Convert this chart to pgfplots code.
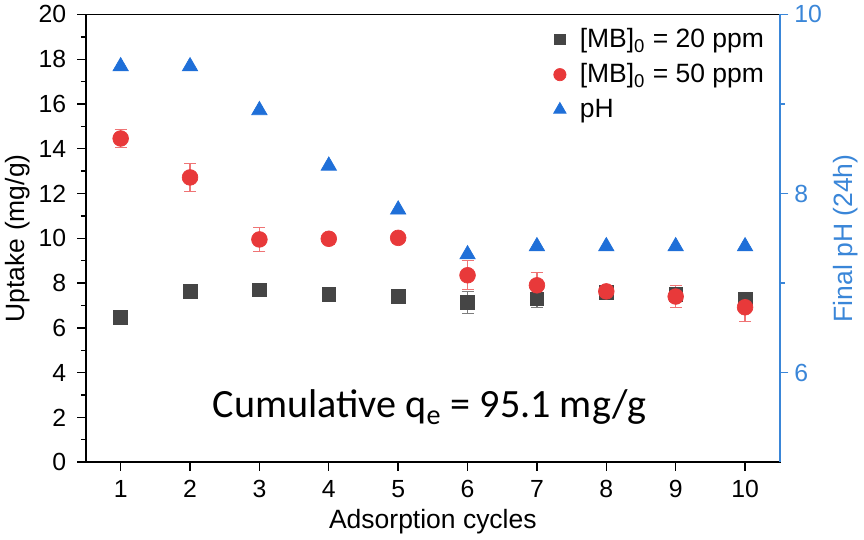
\documentclass[border=0pt]{standalone}
\usepackage{fontspec}
\setmainfont{Liberation Sans}
\newfontfamily\calfont{Carlito}
\usepackage{pgfplots}
\pgfplotsset{compat=1.18}
\definecolor{sqgrey}{HTML}{454545}
\definecolor{cired}{HTML}{E8393A}
\definecolor{phblue}{HTML}{1F6FD8}
\definecolor{axblue}{HTML}{3A86D8}

\begin{document}
\begin{tikzpicture}
\pgfplotsset{
  every axis/.append style={
    scale only axis, width=406pt, height=262pt,
    xmin=0.5, xmax=10.5,
    tick label style={font=\fontsize{14.5}{17}\selectfont},
    label style={font=\fontsize{15.5}{18}\selectfont},
    /pgf/number format/assume math mode=true,
    tick align=outside, major tick length=5pt, minor tick length=3pt,
    axis line style={line width=1pt},
    every tick/.style={line width=0.8pt},
  }
}
\begin{axis}[
  ymin=0, ymax=20, ytick={0,2,...,20}, minor ytick={1,3,...,19},
  xtick={1,...,10},
  ytick pos=left, xtick pos=bottom,
  yticklabel style={xshift=-3pt},
  xticklabel style={yshift=-2pt},
  xlabel={Adsorption cycles}, ylabel={Uptake (mg/g)},
  ylabel style={yshift=-2pt},
  xlabel style={yshift=0pt},
  legend style={at={(0.99,0.985)}, anchor=north east, draw=none, fill=none,
    font=\fontsize{15.5}{18}\selectfont, row sep=4pt},
  legend cell align=left,
]
\addlegendimage{only marks, mark=square*, mark size=3pt, color=sqgrey}
\addlegendentry{\hspace{6pt}[MB]\textsubscript{0} = 20 ppm}
\addlegendimage{only marks, mark=*, mark size=3.6pt, color=cired}
\addlegendentry{\hspace{6pt}[MB]\textsubscript{0} = 50 ppm}
\addlegendimage{only marks, mark=triangle*, mark size=4.2pt, color=phblue}
\addlegendentry{\hspace{6pt}pH}
\addplot[forget plot, only marks, mark=square*, mark size=4pt, color=sqgrey,
  error bars/.cd, y dir=both, y explicit,
  error bar style={color=sqgrey!70, line width=0.7pt},
  error mark options={rotate=90, mark size=3.5pt, color=sqgrey!70}]
  coordinates {
    (1,6.47) +- (0,0.1)
    (2,7.63) +- (0,0.1)
    (3,7.70) +- (0,0.2)
    (4,7.50) +- (0,0.3)
    (5,7.42) +- (0,0.1)
    (6,7.14) +- (0,0.5)
    (7,7.30) +- (0,0.4)
    (8,7.60) +- (0,0.15)
    (9,7.50) +- (0,0.3)
    (10,7.30) +- (0,0.3)
  };
\addplot[forget plot, only marks, mark=*, mark size=4.6pt, color=cired,
  error bars/.cd, y dir=both, y explicit,
  error bar style={color=cired!70, line width=0.7pt},
  error mark options={rotate=90, mark size=3.5pt, color=cired!70}]
  coordinates {
    (1,14.46) +- (0,0.4)
    (2,12.72) +- (0,0.62)
    (3,9.95) +- (0,0.55)
    (4,9.98) +- (0,0.25)
    (5,10.02) +- (0,0.1)
    (6,8.35) +- (0,0.65)
    (7,7.90) +- (0,0.6)
    (8,7.63) +- (0,0.2)
    (9,7.40) +- (0,0.5)
    (10,6.92) +- (0,0.65)
  };
\node[font=\calfont\fontsize{23.5}{26}\selectfont] at (axis cs:5.45,2.45)
  {Cumulative q\textsubscript{e} = 95.1 mg/g};
\end{axis}
\begin{axis}[
  ymin=5, ymax=10, ytick={6,8,10}, minor ytick={7,9},
  axis x line=none, axis y line*=right,
  ytick pos=right,
  y axis line style={color=axblue, line width=1.2pt},
  y tick style={color=axblue},
  yticklabel style={color=axblue},
  ylabel={Final pH (24h)}, ylabel style={color=axblue},
]
\addplot[only marks, mark=triangle*, mark size=5.2pt, color=phblue]
  coordinates {
    (1,9.42) (2,9.42) (3,8.93) (4,8.31) (5,7.82)
    (6,7.32) (7,7.41) (8,7.41) (9,7.41) (10,7.41)
  };
\end{axis}
\end{tikzpicture}
\end{document}
